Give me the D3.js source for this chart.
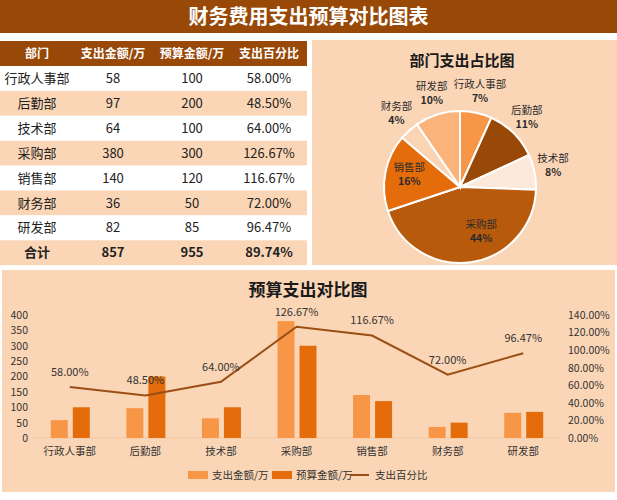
<!DOCTYPE html>
<html>
<head>
<meta charset="utf-8">
<script src="https://cdn.jsdelivr.net/npm/d3@7"></script>
<style>
  body { margin: 0; background: #fff; }
  svg { display: block; font-family: "Microsoft YaHei", "Noto Sans CJK SC", sans-serif; }
</style>
</head>
<body>
<svg id="chart"></svg>
<script>
var WIDTH = 617;
var HEIGHT = 500;

// data
var departments = ['行政人事部', '后勤部', '技术部', '采购部', '销售部', '财务部', '研发部'];
var expense = [58, 97, 64, 380, 140, 36, 82];
var budget = [100, 200, 100, 300, 120, 50, 85];
var percent = [58.00, 48.50, 64.00, 126.67, 116.67, 72.00, 96.47];
var pieLabels = ['7%', '11%', '8%', '44%', '16%', '4%', '10%'];
var totals = ['合计', '857', '955', '89.74%'];
var headers = ['部门', '支出金额/万', '预算金额/万', '支出百分比'];
var pieColors = ['#F79646', '#984807', '#FDE9D9', '#B85A0C', '#E46C0A', '#FBD4B4', '#FAB37A'];
var leftTicks = [0, 50, 100, 150, 200, 250, 300, 350, 400];
var rightTicks = [0, 0.2, 0.4, 0.6, 0.8, 1.0, 1.2, 1.4];

var BROWN = '#984807';
var PEACH = '#FBD6B6';

var svg = d3.select('#chart')
  .attr('width', WIDTH)
  .attr('height', HEIGHT);

// title bar
svg.append('rect')
  .attr('x', 0).attr('y', 0)
  .attr('width', WIDTH).attr('height', 33)
  .attr('fill', BROWN);
svg.append('text')
  .attr('x', WIDTH / 2).attr('y', 24)
  .attr('text-anchor', 'middle')
  .attr('fill', '#fff')
  .attr('font-size', 20)
  .attr('font-weight', 'bold')
  .text('财务费用支出预算对比图表');

// ---------- table ----------
var table = svg.append('g');
var colX = [37, 113, 192, 269];
var tableTop = 41;
var headH = 25;
var rowH = 24.9;
var tableW = 307;

table.append('rect')
  .attr('x', 0).attr('y', tableTop)
  .attr('width', tableW).attr('height', headH)
  .attr('fill', BROWN);
table.selectAll('text.head')
  .data(headers)
  .enter()
  .append('text')
  .attr('class', 'head')
  .attr('x', function(d, i) { return colX[i]; })
  .attr('y', tableTop + headH / 2)
  .attr('dy', '0.35em')
  .attr('text-anchor', 'middle')
  .attr('fill', '#fff')
  .attr('font-size', 12)
  .attr('font-weight', 'bold')
  .text(function(d) { return d; });

var rows = departments.map(function(d, i) {
  return [d, String(expense[i]), String(budget[i]), percent[i].toFixed(2) + '%'];
});
rows.push(totals);

var rowG = table.selectAll('g.row')
  .data(rows)
  .enter()
  .append('g')
  .attr('class', 'row')
  .attr('transform', function(d, i) {
    return 'translate(0,' + (tableTop + headH + i * rowH) + ')';
  });

rowG.append('rect')
  .attr('width', tableW)
  .attr('height', rowH)
  .attr('fill', function(d, i) { return i % 2 === 1 ? PEACH : '#fff'; });

rowG.selectAll('text')
  .data(function(d, i) {
    return d.map(function(v) { return { v: v, last: i === rows.length - 1 }; });
  })
  .enter()
  .append('text')
  .attr('x', function(d, i) { return colX[i]; })
  .attr('y', rowH / 2)
  .attr('dy', '0.35em')
  .attr('text-anchor', 'middle')
  .attr('fill', '#222')
  .attr('font-size', 13)
  .attr('font-weight', function(d) { return d.last ? 'bold' : 'normal'; })
  .text(function(d) { return d.v; });

// ---------- pie ----------
var pieG = svg.append('g');
pieG.append('rect')
  .attr('x', 312).attr('y', 40)
  .attr('width', WIDTH - 312).attr('height', 225)
  .attr('fill', PEACH);
pieG.append('text')
  .attr('x', 462).attr('y', 66)
  .attr('text-anchor', 'middle')
  .attr('fill', '#1a1a1a')
  .attr('font-size', 15)
  .attr('font-weight', 'bold')
  .text('部门支出占比图');

var cx = 460, cy = 187, radius = 76;
var total = d3.sum(expense);
var pie = d3.pie().sort(null).value(function(d) { return d; });
var arcs = pie(expense);
var arc = d3.arc().innerRadius(0).outerRadius(radius);
var outerLabel = d3.arc().innerRadius(95).outerRadius(95);
var innerLabel = d3.arc().innerRadius(radius * 0.68).outerRadius(radius * 0.68);

var slices = pieG.append('g').attr('transform', 'translate(' + cx + ',' + cy + ')');
slices.selectAll('path')
  .data(arcs)
  .enter()
  .append('path')
  .attr('d', arc)
  .attr('fill', function(d, i) { return pieColors[i]; })
  .attr('stroke', '#fff')
  .attr('stroke-width', 2);

var labels = slices.selectAll('g.lbl')
  .data(arcs)
  .enter()
  .append('g')
  .attr('class', 'lbl')
  .attr('transform', function(d) {
    var big = d.value / total > 0.15;
    // the big slice label sits a little before its middle, as in the reference
    var a = big && d.value / total > 0.3
      ? { startAngle: d.startAngle, endAngle: d.startAngle + (d.endAngle - d.startAngle) * 0.8 }
      : d;
    var p = (big ? innerLabel : outerLabel).centroid(a);
    return 'translate(' + p[0] + ',' + p[1] + ')';
  });
labels.append('text')
  .attr('y', -6)
  .attr('text-anchor', 'middle')
  .attr('fill', '#2b2b2b')
  .attr('font-size', 10.5)
  .text(function(d, i) { return departments[i]; });
labels.append('text')
  .attr('y', 8)
  .attr('text-anchor', 'middle')
  .attr('fill', '#2b2b2b')
  .attr('font-size', 10.5)
  .attr('font-weight', 'bold')
  .text(function(d, i) { return pieLabels[i]; });

// ---------- combo chart ----------
var combo = svg.append('g');
combo.append('rect')
  .attr('x', 2).attr('y', 270)
  .attr('width', WIDTH - 4).attr('height', 222)
  .attr('fill', PEACH);
combo.append('text')
  .attr('x', 308).attr('y', 296)
  .attr('text-anchor', 'middle')
  .attr('fill', '#1a1a1a')
  .attr('font-size', 17)
  .attr('font-weight', 'bold')
  .text('预算支出对比图');

var xScale = d3.scaleBand().domain(departments).range([32, 561]);
var yLeft = d3.scaleLinear().domain([0, 400]).range([438, 315]);
var yRight = d3.scaleLinear().domain([0, 1.4]).range([438, 315]);
var barW = 17;

combo.append('line')
  .attr('x1', 32).attr('x2', 561)
  .attr('y1', yLeft(0)).attr('y2', yLeft(0))
  .attr('stroke', '#F3C8A2');

var leftAxis = combo.append('g')
  .attr('transform', 'translate(28,0)')
  .call(d3.axisLeft(yLeft).tickValues(leftTicks).tickSize(0).tickPadding(0));
var rightAxis = combo.append('g')
  .attr('transform', 'translate(568,0)')
  .call(d3.axisRight(yRight).tickValues(rightTicks).tickSize(0).tickPadding(0)
    .tickFormat(function(d) { return (d * 100).toFixed(2) + '%'; }));
var bottomAxis = combo.append('g')
  .attr('transform', 'translate(0,' + (yLeft(0) + 4) + ')')
  .call(d3.axisBottom(xScale).tickSize(0).tickPadding(6));

[leftAxis, rightAxis, bottomAxis].forEach(function(a) {
  a.select('.domain').remove();
  a.selectAll('text')
    .attr('fill', '#333')
    .attr('font-size', 10.5)
    .attr('font-family', '"Microsoft YaHei", "Noto Sans CJK SC", sans-serif');
});

var center = function(d) { return xScale(d) + xScale.bandwidth() / 2; };

combo.selectAll('rect.exp')
  .data(expense)
  .enter()
  .append('rect')
  .attr('class', 'exp')
  .attr('x', function(d, i) { return center(departments[i]) - 19; })
  .attr('y', function(d) { return yLeft(d); })
  .attr('width', barW)
  .attr('height', function(d) { return yLeft(0) - yLeft(d); })
  .attr('fill', '#F79646');

combo.selectAll('rect.bud')
  .data(budget)
  .enter()
  .append('rect')
  .attr('class', 'bud')
  .attr('x', function(d, i) { return center(departments[i]) + 3; })
  .attr('y', function(d) { return yLeft(d); })
  .attr('width', barW)
  .attr('height', function(d) { return yLeft(0) - yLeft(d); })
  .attr('fill', '#E46C0A');

var line = d3.line()
  .x(function(d, i) { return center(departments[i]); })
  .y(function(d) { return yRight(d / 100); });

combo.append('path')
  .datum(percent)
  .attr('d', line)
  .attr('fill', 'none')
  .attr('stroke', '#9A4E14')
  .attr('stroke-width', 2);

combo.selectAll('text.pct')
  .data(percent)
  .enter()
  .append('text')
  .attr('class', 'pct')
  .attr('x', function(d, i) { return center(departments[i]); })
  .attr('y', function(d) { return yRight(d / 100) - 11; })
  .attr('text-anchor', 'middle')
  .attr('fill', '#333')
  .attr('font-size', 11)
  .text(function(d) { return d.toFixed(2) + '%'; });

// legend
var legend = combo.append('g').attr('transform', 'translate(0,475)');
legend.append('rect')
  .attr('x', 188).attr('y', -4).attr('width', 20).attr('height', 8)
  .attr('fill', '#F79646');
legend.append('text')
  .attr('x', 212).attr('dy', '0.35em')
  .attr('font-size', 10.5).attr('fill', '#333')
  .text('支出金额/万');
legend.append('rect')
  .attr('x', 272).attr('y', -4).attr('width', 20).attr('height', 8)
  .attr('fill', '#E46C0A');
legend.append('text')
  .attr('x', 296).attr('dy', '0.35em')
  .attr('font-size', 10.5).attr('fill', '#333')
  .text('预算金额/万');
legend.append('line')
  .attr('x1', 350).attr('x2', 369).attr('y1', 0).attr('y2', 0)
  .attr('stroke', '#9A4E14').attr('stroke-width', 2);
legend.append('text')
  .attr('x', 375).attr('dy', '0.35em')
  .attr('font-size', 10.5).attr('fill', '#333')
  .text('支出百分比');
</script>
</body>
</html>
